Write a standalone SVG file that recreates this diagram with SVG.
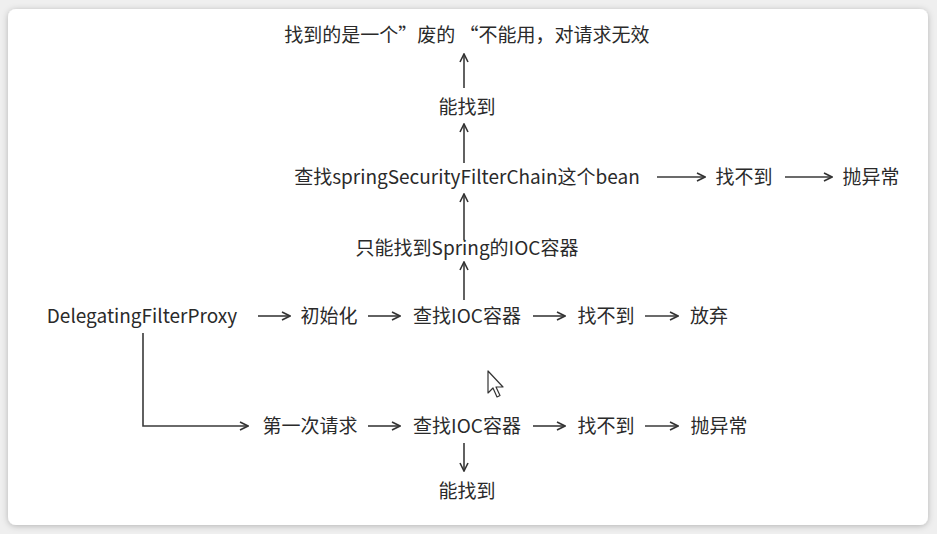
<svg xmlns="http://www.w3.org/2000/svg" width="937" height="534" viewBox="0 0 937 534">
<defs>
<filter id="sh" x="-5%" y="-5%" width="110%" height="110%"><feDropShadow dx="0" dy="1" stdDeviation="3" flood-color="#000" flood-opacity="0.25"/></filter>
<marker id="ah" viewBox="0 0 10 10" refX="9" refY="5" markerWidth="10" markerHeight="10" markerUnits="userSpaceOnUse" orient="auto"><path d="M1,1 L9,5 L1,9" fill="none" stroke="#333" stroke-width="1.6"/></marker>
<style>
text{font-family:"Noto Sans CJK SC","Microsoft YaHei",sans-serif;font-size:19px;fill:#2a2a2a;dominant-baseline:central}
.c{text-anchor:middle}
.l{fill:none;stroke:#3a3a3a;stroke-width:1.6}
</style>
</defs>
<rect width="937" height="534" fill="#efefef"/>
<rect x="8" y="9" width="920" height="516" rx="8" fill="#fff" filter="url(#sh)"/>
<g id="connectors">
<path class="l" d="M464,88 V54" marker-end="url(#ah)"/>
<path class="l" d="M464,163 V124" marker-end="url(#ah)"/>
<path class="l" d="M464,240 V194" marker-end="url(#ah)"/>
<path class="l" d="M464,300 V262" marker-end="url(#ah)"/>
<path class="l" d="M657,177 H705" marker-end="url(#ah)"/>
<path class="l" d="M785,177 H832" marker-end="url(#ah)"/>
<path class="l" d="M258,316 H290" marker-end="url(#ah)"/>
<path class="l" d="M368,316 H400" marker-end="url(#ah)"/>
<path class="l" d="M533,316 H565" marker-end="url(#ah)"/>
<path class="l" d="M645,316 H678" marker-end="url(#ah)"/>
<path class="l" d="M143,333 V426 H248" marker-end="url(#ah)"/>
<path class="l" d="M368,426 H400" marker-end="url(#ah)"/>
<path class="l" d="M533,426 H565" marker-end="url(#ah)"/>
<path class="l" d="M645,426 H678" marker-end="url(#ah)"/>
<path class="l" d="M464,443 V471" marker-end="url(#ah)"/>
</g>
<g id="n_top"><text class="c" x="467" y="33">找到的是一个”废的 “不能用，对请求无效</text></g>
<g id="n_found1"><text class="c" x="467" y="105">能找到</text></g>
<g id="n_findbean"><text class="c" x="467" y="175">查找springSecurityFilterChain这个bean</text></g>
<g id="n_notfound_bean"><text class="c" x="744" y="175">找不到</text></g>
<g id="n_throw1"><text class="c" x="871" y="175">抛异常</text></g>
<g id="n_onlyspring"><text class="c" x="467" y="246">只能找到Spring的IOC容器</text></g>
<g id="n_dfp"><text class="c" x="142" y="314">DelegatingFilterProxy</text></g>
<g id="n_init"><text class="c" x="329" y="314">初始化</text></g>
<g id="n_findioc1"><text class="c" x="467" y="314">查找IOC容器</text></g>
<g id="n_notfound1"><text class="c" x="606" y="314">找不到</text></g>
<g id="n_giveup"><text class="c" x="709" y="314">放弃</text></g>
<g id="n_firstreq"><text class="c" x="310" y="424">第一次请求</text></g>
<g id="n_findioc2"><text class="c" x="467" y="424">查找IOC容器</text></g>
<g id="n_notfound2"><text class="c" x="606" y="424">找不到</text></g>
<g id="n_throw2"><text class="c" x="719" y="424">抛异常</text></g>
<g id="n_found2"><text class="c" x="467" y="489">能找到</text></g>
<path d="M488,371 V393 L493,388 L497,397 L500,395.5 L496,387 L503,387 Z" fill="#fff" stroke="#333" stroke-width="1.2" stroke-linejoin="round"/>
</svg>
